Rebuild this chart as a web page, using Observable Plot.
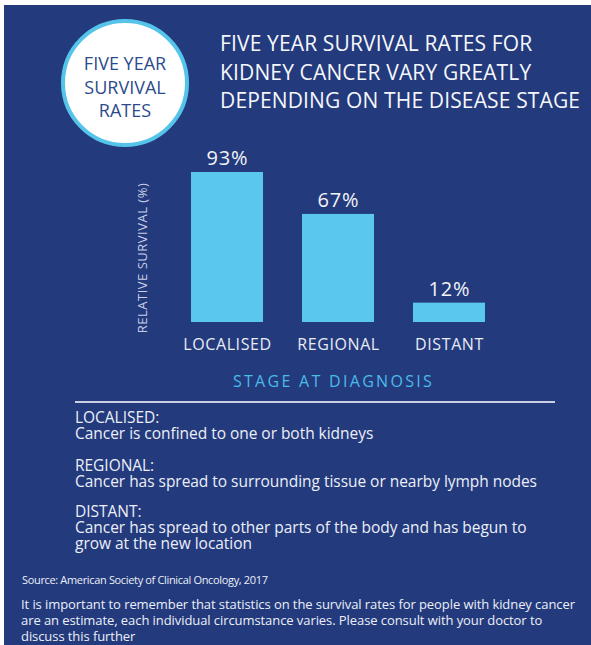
<!DOCTYPE html>
<html>
<head>
<meta charset="utf-8">
<script src="https://cdn.jsdelivr.net/npm/d3@7"></script>
<script src="https://cdn.jsdelivr.net/npm/@observablehq/plot@0.6"></script>
<style>
  html, body { margin:0; padding:0; width:591px; height:645px; overflow:hidden; background:#ffffff; font-family:"Open Sans", sans-serif; }
  #panel { position:absolute; left:4px; top:5px; width:587px; height:640px; background:#233a7d; }
  .t { position:absolute; white-space:nowrap; }
  #badge { position:absolute; left:61px; top:19px; width:128px; height:128px; box-sizing:border-box; border-radius:50%; background:#ffffff; border:4.5px solid #55c4ea; }
  #rule { position:absolute; left:75px; top:400.5px; width:480px; height:2px; background:#c9d0e6; }
  #chart { position:absolute; left:130px; top:140px; }
  .cat text { letter-spacing:0.6px; }
  .val text { letter-spacing:0.8px; }
  .stage text { letter-spacing:2.3px; }
  .ylab text { letter-spacing:0.5px; }
</style>
</head>
<body>
<div id="panel"></div>
<div id="badge"></div>
<div id="rule"></div>
<div id="chart"></div>
<script>
// ---- data ----
const stages = ["LOCALISED", "REGIONAL", "DISTANT"];
const survival = [93, 67, 12];
const yLabel = "RELATIVE SURVIVAL (%)";
const xLabel = "STAGE AT DIAGNOSIS";
const badgeLines = ["FIVE YEAR", "SURVIVAL", "RATES"];
const titleLines = ["FIVE YEAR SURVIVAL RATES FOR", "KIDNEY CANCER VARY GREATLY", "DEPENDING ON THE DISEASE STAGE"];
const defHeads = ["LOCALISED:", "REGIONAL:", "DISTANT:"];
const defTexts = [
  ["Cancer is confined to one or both kidneys"],
  ["Cancer has spread to surrounding tissue or nearby lymph nodes"],
  ["Cancer has spread to other parts of the body and has begun to", "grow at the new location"]
];
const sourceText = "Source: American Society of Clinical Oncology, 2017";
const noteLines = [
  "It is important to remember that statistics on the survival rates for people with kidney cancer",
  "are an estimate, each individual circumstance varies. Please consult with your doctor to",
  "discuss this further"
];

// ---- helpers ----
// multi-line text block, positioned by the baseline of its first line
function addBlock(lines, x, baseline, size, lh, color, center) {
  const d = document.createElement("div");
  d.className = "t";
  lines.forEach((s, i) => {
    if (i) d.appendChild(document.createElement("br"));
    const sp = document.createElement("span");
    sp.textContent = s;
    d.appendChild(sp);
  });
  d.style.fontSize = size + "px";
  d.style.lineHeight = lh + "px";
  d.style.top = (baseline - lh / 2 - 0.388 * size) + "px";
  d.style.left = x + "px";
  d.style.color = color;
  if (center) { d.style.transform = "translateX(-50%)"; d.style.textAlign = "center"; }
  document.body.appendChild(d);
  return d;
}
function fitGroup(blocks, refSpan, target) {
  const w = refSpan.getBoundingClientRect().width;
  const n = refSpan.textContent.length;
  const ls = (target - w) / (n - 1);
  blocks.forEach(b => b.style.letterSpacing = ls + "px");
}

// ---- badge ----
addBlock(badgeLines, 125, 71, 18, 23.5, "#2d4b8c", true);

// ---- title ----
const title = addBlock(titleLines, 220, 51.5, 21, 28.7, "#f5f7fb");
fitGroup([title], title.querySelectorAll("span")[2], 360);

// ---- definitions ----
const headBase = [423, 471, 517];
const defBlocks = defHeads.map((h, i) => addBlock([h, ...defTexts[i]], 75, headBase[i], 15.5, 16.3, "#eceff7"));
fitGroup(defBlocks, defBlocks[1].querySelectorAll("span")[1], 462);

// ---- footer ----
const src = addBlock([sourceText], 22, 584, 11, 13, "#eceff7");
fitGroup([src], src.querySelector("span"), 246);
const note = addBlock(noteLines, 21, 609, 13, 16.2, "#eceff7");
fitGroup([note], note.querySelector("span"), 554);

// ---- chart ----
const data = stages.map((s, i) => ({stage: s, value: survival[i]}));
const W = 420, H = 255;
const chart = Plot.plot({
  width: W,
  height: H,
  marginTop: 53,
  marginBottom: 73,
  marginLeft: 0,
  marginRight: 0,
  style: {background: "transparent", color: "#e9ecf4", fontFamily: "Open Sans", overflow: "visible"},
  x: {domain: stages, range: [21.75, 394.75], padding: 0.3528},
  y: {domain: [0, 93], range: [182, 32], axis: null},
  marks: [
    Plot.barY(data, {x: "stage", y: "value", fill: "#5ac8ee"}),
    Plot.text(data, {x: "stage", y: "value", text: d => d.value + "%", lineAnchor: "bottom", dy: -7.5, fill: "#f2f4f9", fontSize: 20, className: "val"}),
    Plot.axisX({tickSize: 0, tickPadding: 16, fontSize: 16, label: null, fill: "#e9ecf4", className: "cat"}),
    Plot.text([xLabel], {frameAnchor: "bottom", dy: 59, dx: -7, lineAnchor: "middle", fill: "#4cbbe9", fontSize: 16, className: "stage"}),
    Plot.text([yLabel], {frameAnchor: "left", dx: 12, rotate: -90, textAnchor: "middle", lineAnchor: "middle", fill: "#c8cfe6", fontSize: 13, className: "ylab"})
  ]
});
document.getElementById("chart").appendChild(chart);
</script>
</body>
</html>
